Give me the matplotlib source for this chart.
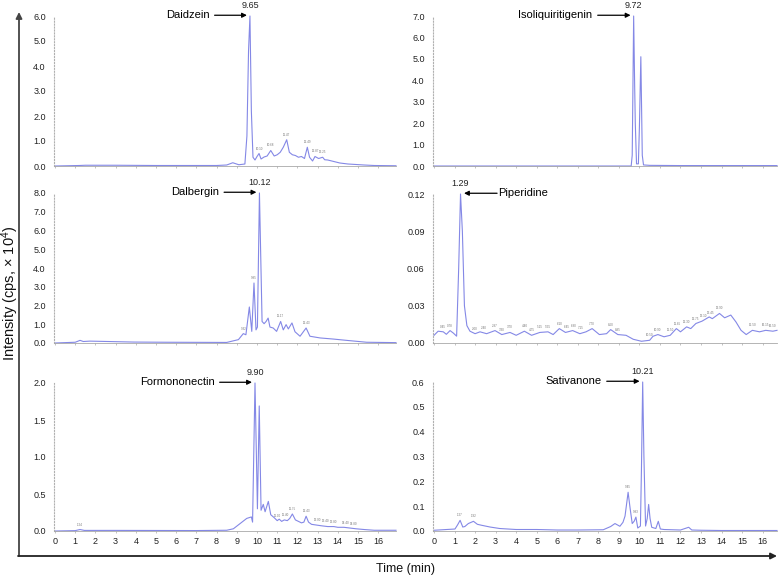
import numpy as np
import matplotlib
matplotlib.use("Agg")
import matplotlib.pyplot as plt
from matplotlib.patches import FancyArrowPatch

plt.rcParams['font.family'] = ['Liberation Sans', 'DejaVu Sans']
plt.rcParams['mathtext.fontset'] = 'custom'
plt.rcParams['mathtext.rm'] = 'Liberation Sans'
plt.rcParams['mathtext.default'] = 'regular'

# ---- chromatogram data (time in min, intensity in cps x 10^4) ----
daidzein_t = [0.0, 1.2, 1.5, 3.0, 5.0, 7.0, 8.0, 8.5, 8.8, 9.1, 9.4, 9.5, 9.58, 9.65, 9.72, 9.8,
              9.9, 10.0, 10.1, 10.2, 10.35, 10.5, 10.68, 10.85, 11.0, 11.15, 11.3, 11.47, 11.6,
              11.75, 11.9, 12.05, 12.2, 12.35, 12.49, 12.6, 12.75, 12.87, 13.05, 13.25, 13.35,
              13.5, 13.8, 14.1, 14.5, 14.9, 15.3, 15.8, 16.88]
daidzein_y = [0.0, 0.02, 0.03, 0.03, 0.02, 0.02, 0.02, 0.04, 0.13, 0.05, 0.08, 1.2, 4.6, 6.0, 2.2,
              0.35, 0.24, 0.38, 0.5, 0.28, 0.36, 0.4, 0.62, 0.4, 0.45, 0.55, 0.75, 1.05, 0.55,
              0.45, 0.42, 0.35, 0.38, 0.3, 0.75, 0.35, 0.2, 0.38, 0.3, 0.35, 0.25, 0.24, 0.18,
              0.12, 0.08, 0.06, 0.04, 0.02, 0.01]
daidzein_minor = [10.1, 10.68, 11.47, 12.49, 12.87, 13.25]

isoliq_t = [0.0, 5.0, 9.0, 9.6, 9.65, 9.68, 9.72, 9.77, 9.8, 9.86, 9.95, 10.0, 10.07, 10.14,
            10.2, 10.5, 12.0, 14.0, 16.7]
isoliq_y = [0.0, 0.0, 0.0, 0.0, 0.5, 3.2, 7.0, 3.7, 2.0, 0.1, 0.1, 1.8, 5.1, 0.5, 0.05, 0.03,
            0.02, 0.02, 0.02]
isoliq_minor = []

dalbergin_t = [0.0, 1.0, 1.24, 1.4, 1.73, 3.9, 5.5, 8.5, 9.08, 9.32, 9.45, 9.62, 9.74, 9.85,
               9.95, 10.02, 10.12, 10.25, 10.35, 10.45, 10.55, 10.64, 10.8, 10.97, 11.17, 11.3,
               11.44, 11.55, 11.73, 11.88, 12.13, 12.43, 12.62, 13.12, 13.78, 14.44, 14.93,
               15.43, 16.88]
dalbergin_y = [0.0, 0.04, 0.14, 0.08, 0.1, 0.05, 0.04, 0.03, 0.18, 0.5, 0.44, 1.92, 0.62, 3.2,
               0.7, 0.85, 8.0, 1.15, 1.03, 1.15, 1.33, 0.85, 0.8, 0.62, 1.15, 0.7, 0.98, 0.75,
               1.07, 0.6, 0.36, 0.8, 0.36, 0.27, 0.21, 0.14, 0.09, 0.04, 0.02]
dalbergin_minor = [9.32, 9.85, 11.17, 12.43]

piperidine_t = [0.0, 0.2, 0.45, 0.6, 0.78, 0.94, 1.1, 1.2, 1.29, 1.38, 1.48, 1.6, 1.75, 2.0,
                2.24, 2.56, 2.97, 3.3, 3.7, 4.0, 4.4, 4.75, 5.15, 5.55, 5.8, 6.1, 6.4, 6.75,
                7.1, 7.4, 7.7, 8.05, 8.4, 8.6, 8.95, 9.35, 9.7, 10.1, 10.5, 10.66, 10.9, 11.2,
                11.5, 11.8, 12.0, 12.3, 12.5, 12.75, 13.05, 13.4, 13.55, 13.9, 14.15, 14.45,
                14.7, 14.95, 15.2, 15.5, 15.85, 16.15, 16.5, 16.7]
piperidine_y = [0.0062, 0.0095, 0.009, 0.007, 0.010, 0.008, 0.0055, 0.06, 0.12, 0.09, 0.03,
                0.014, 0.0095, 0.0075, 0.009, 0.0075, 0.010, 0.0068, 0.0085, 0.0062, 0.0095,
                0.0062, 0.0085, 0.009, 0.0068, 0.0116, 0.0085, 0.010, 0.0075, 0.009, 0.0116,
                0.0068, 0.0075, 0.0108, 0.0068, 0.0062, 0.003, 0.0014, 0.0022, 0.0054, 0.0068,
                0.005, 0.0062, 0.0116, 0.009, 0.013, 0.0116, 0.0157, 0.0176, 0.021, 0.0196,
                0.0238, 0.0203, 0.0225, 0.017, 0.0102, 0.0068, 0.0102, 0.009, 0.0102, 0.0095,
                0.0102]
piperidine_minor = [0.45, 0.78, 2.0, 2.4, 2.97, 3.3, 3.7, 4.4, 4.75, 5.15, 5.55, 6.1, 6.45,
                    6.8, 7.15, 7.7, 8.6, 8.95, 10.5, 10.9, 11.5, 11.85, 12.3, 12.75, 13.1,
                    13.45, 13.9, 15.5, 16.15, 16.5]

formono_t = [0.0, 1.0, 1.24, 1.45, 3.0, 5.0, 7.0, 8.5, 8.83, 9.16, 9.49, 9.72, 9.78, 9.9, 10.02,
             10.11, 10.2, 10.31, 10.4, 10.56, 10.68, 10.85, 11.0, 11.1, 11.22, 11.35, 11.5,
             11.62, 11.75, 11.9, 12.05, 12.2, 12.32, 12.43, 12.55, 12.7, 12.95, 13.2, 13.5,
             13.8, 14.0, 14.3, 14.6, 14.9, 15.3, 15.8, 16.88]
formono_y = [0.0, 0.005, 0.02, 0.008, 0.008, 0.007, 0.006, 0.01, 0.03, 0.1, 0.17, 0.19, 0.12,
             2.0, 0.3, 1.69, 0.28, 0.36, 0.26, 0.4, 0.22, 0.18, 0.14, 0.16, 0.13, 0.15, 0.14,
             0.17, 0.23, 0.15, 0.13, 0.11, 0.12, 0.2, 0.12, 0.09, 0.08, 0.07, 0.06, 0.06, 0.05,
             0.05, 0.04, 0.03, 0.02, 0.01, 0.01]
formono_minor = [1.24, 11.0, 11.4, 11.75, 12.43, 13.0, 13.4, 13.8, 14.4, 14.8]

sativ_t = [0.0, 1.02, 1.15, 1.27, 1.4, 1.5, 1.67, 1.92, 2.11, 2.32, 2.73, 3.2, 4.0, 5.0, 6.0,
           7.0, 8.24, 8.6, 8.81, 9.05, 9.2, 9.3, 9.45, 9.55, 9.65, 9.75, 9.83, 9.92, 10.05,
           10.1, 10.16, 10.22, 10.3, 10.38, 10.45, 10.52, 10.6, 10.8, 10.92, 11.02, 11.2,
           12.0, 12.4, 12.55, 13.0, 14.0, 16.7]
sativ_y = [0.003, 0.008, 0.025, 0.043, 0.016, 0.018, 0.03, 0.039, 0.027, 0.023, 0.016, 0.01,
           0.006, 0.006, 0.004, 0.004, 0.005, 0.018, 0.03, 0.019, 0.035, 0.06, 0.156, 0.09,
           0.03, 0.04, 0.056, 0.012, 0.02, 0.25, 0.6, 0.3, 0.02, 0.05, 0.107, 0.05, 0.015,
           0.01, 0.039, 0.008, 0.006, 0.004, 0.015, 0.004, 0.003, 0.002, 0.002]
sativ_minor = [1.27, 1.92, 9.45, 9.83]

# name, peak label, data, minor peak marks, y ticks, tick format, arrow side
panels = [
    ("Daidzein", "9.65", daidzein_t, daidzein_y, daidzein_minor, np.arange(0, 6.01, 1.0), "%.1f", "right"),
    ("Isoliquiritigenin", "9.72", isoliq_t, isoliq_y, isoliq_minor, np.arange(0, 7.01, 1.0), "%.1f", "right"),
    ("Dalbergin", "10.12", dalbergin_t, dalbergin_y, dalbergin_minor, np.arange(0, 8.01, 1.0), "%.1f", "right"),
    ("Piperidine", "1.29", piperidine_t, piperidine_y, piperidine_minor, np.arange(0, 0.121, 0.03), "%.2f", "left"),
    ("Formononectin", "9.90", formono_t, formono_y, formono_minor, np.arange(0, 2.01, 0.5), "%.1f", "right"),
    ("Sativanone", "10.21", sativ_t, sativ_y, sativ_minor, np.arange(0, 0.61, 0.1), "%.1f", "right"),
]

W, H = 778, 578
fig = plt.figure(figsize=(W / 100, H / 100), dpi=100)

# axes boxes in pixels: (x0, y_top, x1, y_bottom)
boxes = [(54, 16, 396, 166), (433, 16, 777, 166),
         (54, 193, 396, 343), (433, 194, 777, 343),
         (54, 383, 396, 531), (433, 382, 777, 531)]
xlims = [(-0.05, 16.88), (-0.05, 16.7)]
line_color = "#8488e6"

for i, (name, peak_lbl, t, y, minor, yticks, fmt, side) in enumerate(panels):
    x0, yt, x1, yb = boxes[i]
    ax = fig.add_axes([x0 / W, 1 - yb / H, (x1 - x0) / W, (yb - yt) / H])
    ax.plot(t, y, color=line_color, lw=0.8, clip_on=False)
    ax.set_xlim(*xlims[i % 2])
    ax.set_ylim(0, yticks[-1])
    ax.set_yticks(yticks)
    ax.set_yticklabels([fmt % v for v in yticks])
    ax.set_xticks(range(0, 17))
    if i >= 4:
        ax.set_xticklabels([str(v) for v in range(0, 17)])
    else:
        ax.set_xticklabels([])
    ax.tick_params(axis="y", length=0, pad=6, labelsize=6.5, labelcolor="#222222")
    ax.tick_params(axis="x", length=1.5, width=0.5, color="#aaaaaa", pad=3,
                   labelsize=6.5, labelcolor="#222222")
    for s in ("top", "right"):
        ax.spines[s].set_visible(False)
    ax.spines["left"].set_color("#b0b0b0")
    ax.spines["left"].set_linestyle(":")
    ax.spines["left"].set_linewidth(0.8)
    ax.spines["bottom"].set_color("#a8a8a8")
    ax.spines["bottom"].set_linewidth(0.6)

    # main peak: retention time label and arrow with compound name
    ip = int(np.argmax(y))
    tp, yp = t[ip], y[ip]
    ymax = yticks[-1]
    ax.annotate(peak_lbl, (tp, yp), xytext=(0, 4), textcoords="offset points",
                ha="center", va="bottom", fontsize=6.5, color="#222222", annotation_clip=False)
    ya = yp + ymax * 0.005
    if side == "right":
        ax.annotate("", xy=(tp - 0.15, ya), xytext=(tp - 1.75, ya),
                    arrowprops=dict(arrowstyle="-|>", color="black", lw=0.9,
                                    mutation_scale=7, shrinkA=0, shrinkB=0),
                    annotation_clip=False)
        ax.text(tp - 2.0, ya, name, ha="right", va="center", fontsize=8)
    else:
        ax.annotate("", xy=(tp + 0.17, ya), xytext=(tp + 1.78, ya),
                    arrowprops=dict(arrowstyle="-|>", color="black", lw=0.9,
                                    mutation_scale=7, shrinkA=0, shrinkB=0),
                    annotation_clip=False)
        ax.text(tp + 1.83, ya, name, ha="left", va="center", fontsize=8)

    # tiny retention-time marks on minor peaks
    for m in minor:
        ym = np.interp(m, t, y)
        ax.text(m, ym + ymax * 0.02, "%.2f" % m, ha="center", va="bottom",
                fontsize=2.2, color="#777777")

# outer frame arrows
fig.add_artist(FancyArrowPatch((19 / W, 1 - 556 / H), (19 / W, 1 - 12 / H),
                               transform=fig.transFigure, arrowstyle="-|>",
                               mutation_scale=9, color="#444444", lw=1.3,
                               shrinkA=0, shrinkB=0))
fig.add_artist(FancyArrowPatch((18 / W, 1 - 556 / H), (777 / W, 1 - 556 / H),
                               transform=fig.transFigure, arrowstyle="-|>",
                               mutation_scale=9, color="#222222", lw=1.3,
                               shrinkA=0, shrinkB=0))

fig.text(10 / W, 1 - 293 / H, "Intensity (cps, \u00d7 10$^{4}$)", rotation=90,
         ha="center", va="center", fontsize=10.5, color="#111111")
fig.text(405 / W, 1 - 569 / H, "Time (min)", ha="center", va="center",
         fontsize=9, color="#111111")

fig.savefig("out.png", dpi=100)
